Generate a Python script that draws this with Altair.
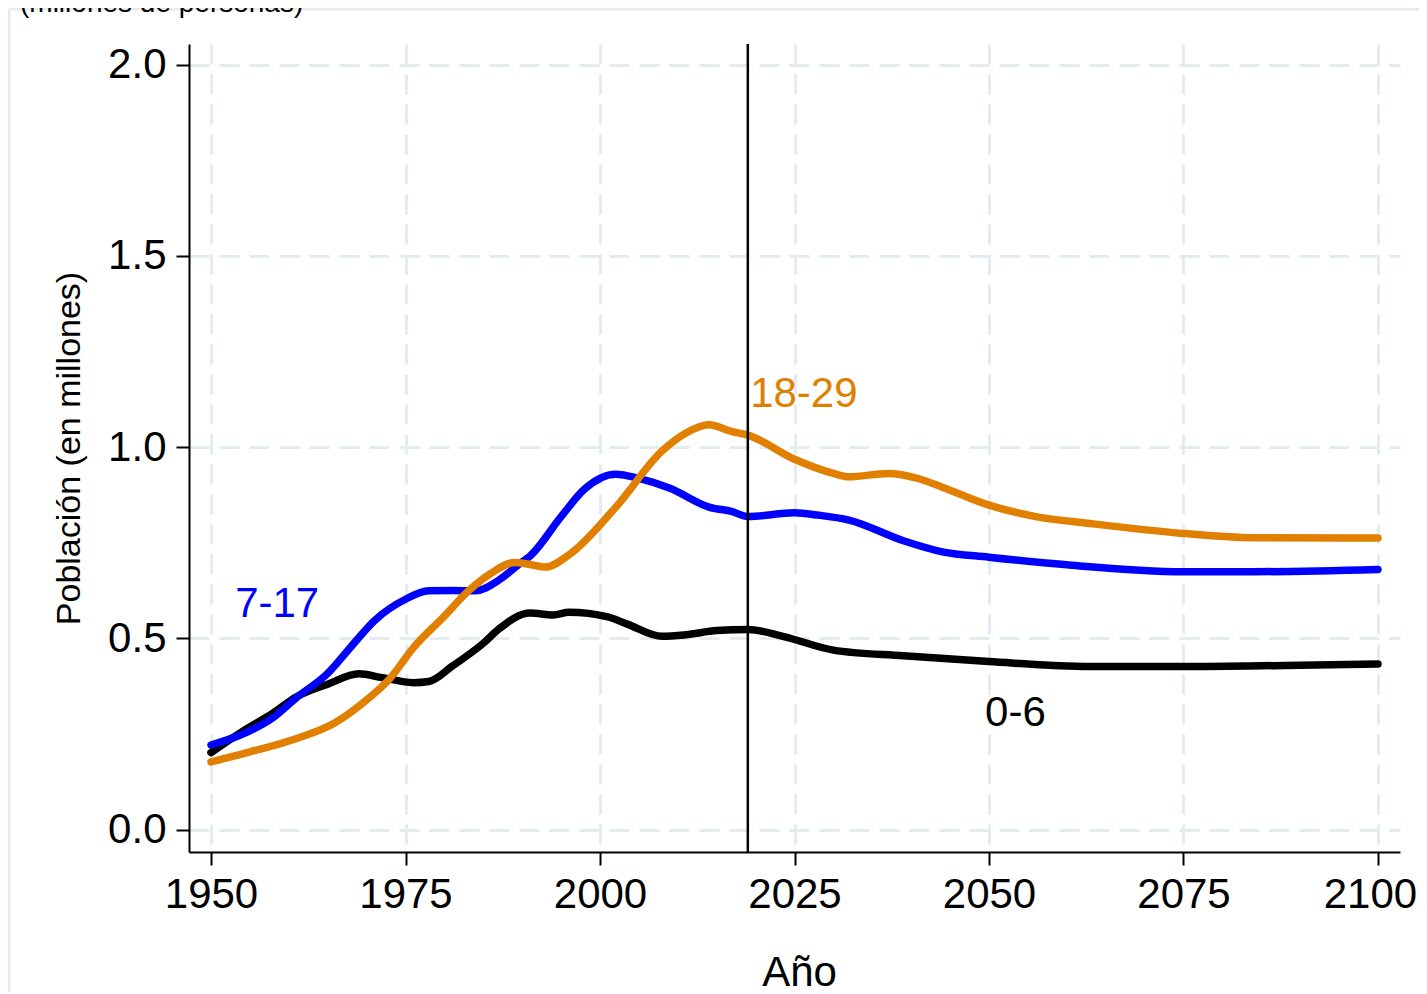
import altair as alt
import pandas as pd

# ---- data ----
years_06 = [1950, 1954, 1958, 1961, 1965, 1969, 1972, 1976, 1978, 1981, 1985, 1987, 1991, 1994, 1996,
            2001, 2003.5, 2008, 2011, 2015, 2019, 2023.5, 2030, 2039, 2050, 2063, 2075, 2088, 2100]
vals_06 = [0.201, 0.256, 0.305, 0.347, 0.380, 0.407, 0.397, 0.384, 0.387, 0.427, 0.487, 0.524, 0.566, 0.561, 0.568,
           0.556, 0.537, 0.505, 0.509, 0.520, 0.523, 0.505, 0.469, 0.454, 0.439, 0.426, 0.426, 0.429, 0.433]

years_717 = [1950, 1954, 1958, 1961, 1965, 1968, 1971, 1975, 1978, 1981, 1984, 1987, 1990, 1991, 1995, 1998,
             2002, 2005, 2009, 2014, 2017, 2019, 2025, 2028, 2032, 2039, 2044, 2050, 2060, 2075, 2084, 2100]
vals_717 = [0.221, 0.249, 0.293, 0.345, 0.408, 0.478, 0.546, 0.602, 0.624, 0.625, 0.624, 0.652, 0.700, 0.715, 0.818, 0.890,
            0.929, 0.918, 0.892, 0.843, 0.831, 0.818, 0.828, 0.822, 0.809, 0.755, 0.726, 0.712, 0.692, 0.674, 0.674, 0.680]

years_1829 = [1950, 1955, 1961, 1966, 1970, 1973, 1976, 1980, 1983, 1986, 1989, 1991, 1993, 1996, 2002, 2008,
              2011, 2014, 2017, 2019, 2025, 2030, 2032, 2037, 2041, 2044, 2050, 2056, 2063, 2075, 2084, 2100]
vals_1829 = [0.177, 0.203, 0.238, 0.280, 0.339, 0.395, 0.475, 0.558, 0.622, 0.670, 0.698, 0.693, 0.686, 0.718, 0.842, 0.990,
             1.036, 1.058, 1.040, 1.031, 0.968, 0.931, 0.922, 0.931, 0.917, 0.895, 0.848, 0.818, 0.800, 0.774, 0.763, 0.762]

groups = ["0-6", "7-17", "18-29"]
colors = ["#000000", "#0000ff", "#e07f00"]
label_years = [2049.5, 1953.1, 2019.3]
label_vals = [0.271, 0.556, 1.105]

x_ticks = [1950, 1975, 2000, 2025, 2050, 2075, 2100]
y_ticks = [0.0, 0.5, 1.0, 1.5, 2.0]
ref_year = [2019]

rows = []
for g, ys, vs in [("0-6", years_06, vals_06), ("7-17", years_717, vals_717), ("18-29", years_1829, vals_1829)]:
    for y, v in zip(ys, vs):
        rows.append({"grupo": g, "anio": y, "pob": v})
df = pd.DataFrame(rows)
lab = pd.DataFrame({"grupo": groups, "anio": label_years, "pob": label_vals})

FONT = "Liberation Sans"
xs = alt.Scale(domain=[1947.17, 2102.83], nice=False, zero=False)
ys_ = alt.Scale(domain=[-0.0588, 2.0536], nice=False, zero=False)
cs = alt.Scale(domain=groups, range=colors)

base = alt.Chart(df)

lines = base.mark_line(strokeWidth=7.5, strokeCap="round", strokeJoin="round", interpolate="monotone").encode(
    x=alt.X("anio:Q", scale=xs, axis=alt.Axis(
        values=x_ticks, format="d", title="Año", grid=True, gridColor="#e4ecef", gridWidth=3,
        gridDash=[20, 10], domainColor="#000", domainWidth=2, tickColor="#000", tickWidth=2, tickSize=13,
        labelFontSize=42, labelFont=FONT, labelColor="#000", labelPadding=9, labelFlush=False,
        labelOffset={"condition": {"test": "datum.value == 2100", "value": -8}, "value": 0},
        titleFontSize=42, titleFont=FONT, titleFontWeight="normal", titleColor="#000",
        titleX=610, titleY=133, titleBaseline="alphabetic", titleAlign="center")),
    y=alt.Y("pob:Q", scale=ys_, axis=alt.Axis(
        values=y_ticks, format=".1f", title="Población (en millones)", grid=True, gridColor="#e4ecef",
        gridWidth=3, gridDash=[20, 10], domainColor="#000", domainWidth=2, tickColor="#000", tickWidth=2,
        tickSize=13, labelFontSize=42, labelFont=FONT, labelColor="#000", labelPadding=10,
        titleFontSize=34, titleFont=FONT, titleFontWeight="normal", titleColor="#000",
        titleAngle=-90, titleX=-110, titleY=404, titleBaseline="alphabetic", titleAlign="center")),
    color=alt.Color("grupo:N", scale=cs, legend=None),
    detail="grupo:N",
)

labels = alt.Chart(lab).mark_text(align="left", baseline="alphabetic", fontSize=42, font=FONT).encode(
    x=alt.X("anio:Q", scale=xs),
    y=alt.Y("pob:Q", scale=ys_),
    text="grupo:N",
    color=alt.Color("grupo:N", scale=cs, legend=None),
)

vline = alt.Chart(pd.DataFrame({"anio": ref_year})).mark_rule(color="#000", strokeWidth=2.5).encode(
    x=alt.X("anio:Q", scale=xs)
)

one = pd.DataFrame({"t": ["(millones de personas)"]})
frame_left = alt.Chart(one).mark_rule(color="#e6edf0", strokeWidth=3).encode(
    x=alt.value(-180), y=alt.value(-35), y2=alt.value(1000))
frame_top = alt.Chart(one).mark_rule(color="#e6edf0", strokeWidth=3).encode(
    y=alt.value(-35), x=alt.value(-180), x2=alt.value(1300))
top_text = alt.Chart(one).mark_text(align="left", baseline="alphabetic", fontSize=28, font=FONT,
                                    color="#000").encode(
    x=alt.value(-169), y=alt.value(-32), text="t:N")

chart = alt.layer(frame_left, frame_top, top_text, lines, vline, labels).properties(
    width=1211, height=808,
    background="white",
    autosize=alt.AutoSizeParams(type="none"),
    padding={"left": 181, "top": 36, "right": 19, "bottom": 140},
).configure_view(stroke=None)

chart.save("out.html", embed_options={"renderer": "svg", "actions": False})
